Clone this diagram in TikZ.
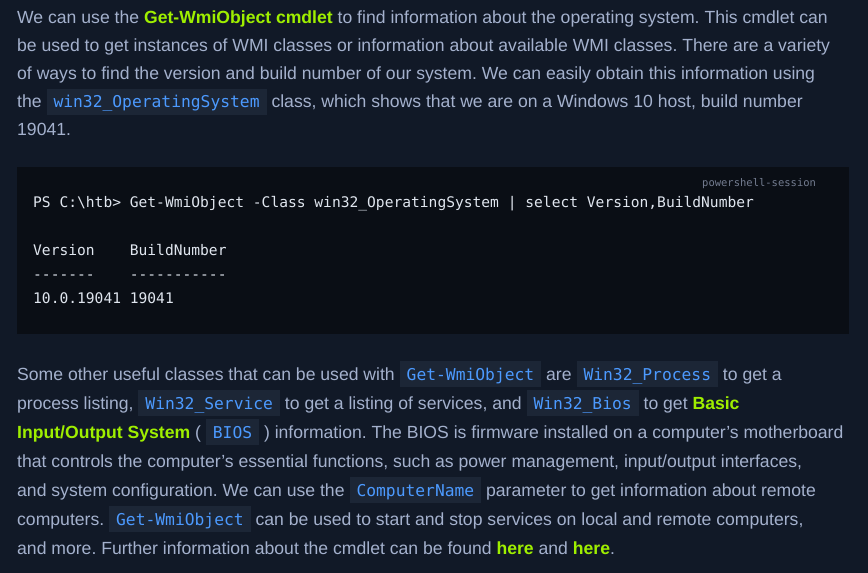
\documentclass[tikz,border=0pt]{standalone}
\usepackage{fontspec}
\setmainfont{Liberation Sans}
\setmonofont{DejaVu Sans Mono}
\usetikzlibrary{positioning}
\definecolor{pagebg}{HTML}{111927}
\definecolor{txt}{HTML}{A4B1CD}
\definecolor{hl}{HTML}{9FEF00}
\definecolor{codebg}{HTML}{1C2636}
\definecolor{codefg}{HTML}{4C9AFF}
\definecolor{blockbg}{HTML}{0A0E15}
\definecolor{blockfg}{HTML}{E0E6EF}
\newcommand{\cdx}[1]{{\setlength{\fboxsep}{0pt}\colorbox{codebg}{\rule[-7bp]{0pt}{26bp}\hspace{7bp}\textcolor{codefg}{\fontsize{16.3bp}{20bp}\ttfamily #1}\hspace{7bp}}}}
\newcommand{\hlt}[1]{\textcolor{hl}{\bfseries #1}}
\tikzstyle{line} = [anchor=base west, inner sep=0, text=txt, font=\fontsize{17.6bp}{29bp}\selectfont\frenchspacing]
\tikzstyle{code} = [anchor=base west, inner sep=0, text=blockfg, font=\fontsize{14.6bp}{20bp}\ttfamily]
\begin{document}
\begin{tikzpicture}[x=1bp, y=-1bp]

% Page background and code block
\fill[pagebg] (0,0) rectangle (868,573);
\fill[blockbg] (17,167) rectangle (849,334);

% Paragraph one
\node[line] (p1) at (17,24) {We can use the \hlt{Get-WmiObject cmdlet} to find information about the operating system. This cmdlet can};
\node[line] (p2) at (17,52) {be used to get instances of WMI classes or information about available WMI classes. There are a variety};
\node[line] (p3) at (17,80) {of ways to find the version and build number of our system. We can easily obtain this information using};
\node[line] (p4) at (17,108) {the \cdx{win32\_OperatingSystem} class, which shows that we are on a Windows 10 host, build number};
\node[line] (p5) at (17,136) {19041.};

% Code block
\node[code, font=\fontsize{10.5bp}{12bp}\ttfamily, text=txt!70!black] (lang) at (702,187) {powershell-session};
\node[code] (c1) at (33,208) {PS C:\textbackslash htb> Get-WmiObject -Class win32\_OperatingSystem | select Version,BuildNumber};
\node[code] (c2) at (33,256) {Version\ \ \ \ BuildNumber};
\node[code] (c3) at (33,279) {-------\ \ \ \ -----------};
\node[code] (c4) at (33,303) {10.0.19041 19041};

% Paragraph two
\node[line] (q1) at (17,380) {Some other useful classes that can be used with \cdx{Get-WmiObject} are \cdx{Win32\_Process} to get a};
\node[line] (q2) at (17,409) {process listing, \cdx{Win32\_Service} to get a listing of services, and \cdx{Win32\_Bios} to get \hlt{Basic}};
\node[line] (q3) at (17,438) {\hlt{Input/Output System} ( \cdx{BIOS} ) information. The BIOS is firmware installed on a computer's motherboard};
\node[line] (q4) at (17,467) {that controls the computer's essential functions, such as power management, input/output interfaces,};
\node[line] (q5) at (17,496) {and system configuration. We can use the \cdx{ComputerName} parameter to get information about remote};
\node[line] (q6) at (17,525) {computers. \cdx{Get-WmiObject} can be used to start and stop services on local and remote computers,};
\node[line] (q7) at (17,554) {and more. Further information about the cmdlet can be found \hlt{here} and \hlt{here}.};

\end{tikzpicture}
\end{document}
